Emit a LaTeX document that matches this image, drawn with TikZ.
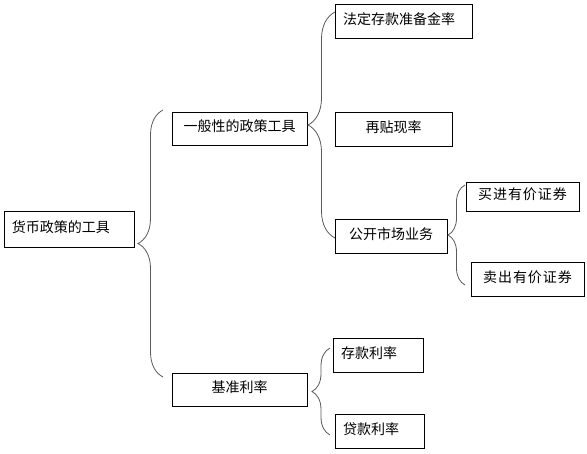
\documentclass[tikz,border=0pt]{standalone}
\usepackage{fontspec}
\setmainfont{Noto Sans CJK SC}
\usepackage{tikz}
\usetikzlibrary{decorations.pathreplacing}

\begin{document}
\begin{tikzpicture}[x=1pt,y=-1pt,semithick,
  every node/.style={font=\fontsize{14}{16}\selectfont},
  box/.style={draw,line width=0.8pt,inner sep=0pt,text depth=5pt,minimum height=34pt},
  lbox/.style={box,align=left,inner xsep=8pt},
  wide/.style={font=\fontsize{14}{16}\selectfont\addfontfeature{LetterSpace=7}},
  curly/.style={draw=black!65,line width=0.8pt,decorate,decoration={brace,amplitude=#1}}]
 \useasboundingbox (0,0) rectangle (587,453);

 \node[lbox,text width=114pt,minimum height=36pt] (tools) at (69,229) {货币政策的工具};
 \node[box,minimum width=135pt,minimum height=33pt] (general) at (239.5,128.5) {一般性的政策工具};
 \node[box,minimum width=135pt,minimum height=33pt] (base) at (239.5,389.5) {基准利率};

 \node[lbox,text width=121pt] (reserve) at (403.5,21) {法定存款准备金率};
 \node[box,minimum width=117pt] (discount) at (393.5,129) {再贴现率};
 \node[box,minimum width=112pt] (market) at (391,236) {公开市场业务};
 \node[box,wide,minimum width=113pt,minimum height=29pt] (buy) at (522.5,196.5) {买进有价证券};
 \node[box,wide,minimum width=113pt] (sell) at (527.5,279) {卖出有价证券};

 \node[lbox,text width=74pt] (deposit) at (378,355) {存款利率};
 \node[lbox,text width=73pt] (loan) at (379.5,431) {贷款利率};

 % brace ends
 \coordinate (t1) at (163,110); \coordinate (b1) at (163,377);
 \coordinate (t2) at (335,12);  \coordinate (b2) at (335,238);
 \coordinate (t3) at (465,185); \coordinate (b3) at (465,285);
 \coordinate (t4) at (330,348); \coordinate (b4) at (330,435);

 \path[curly=25pt] (b1) -- (t1);
 \path[curly=27pt] (b2) -- (t2);
 \path[curly=17pt] (b3) -- (t3);
 \path[curly=18pt] (b4) -- (t4);
\end{tikzpicture}
\end{document}
